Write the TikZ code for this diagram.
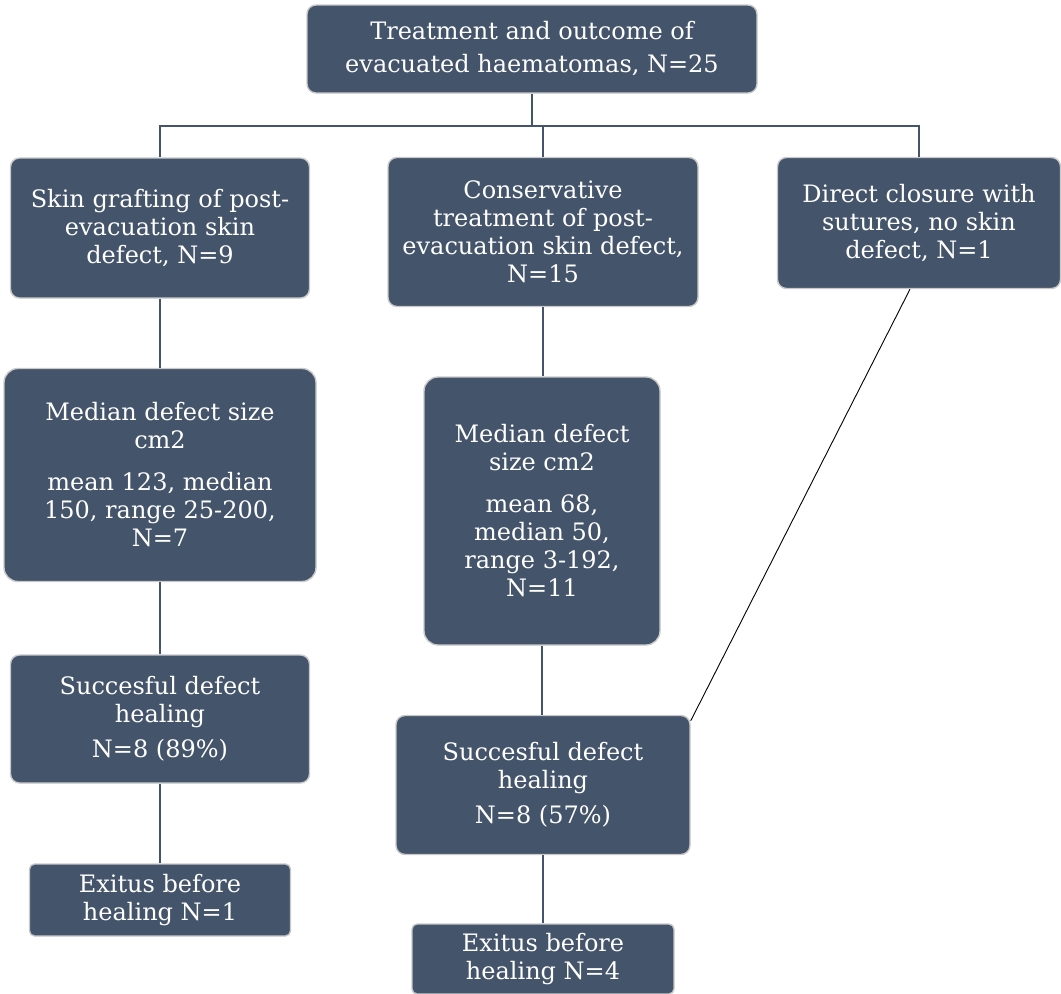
\documentclass[tikz,border=0pt]{standalone}
\usepackage{fontspec}
\setmainfont{DejaVu Serif}
\usepackage{tikz}

\definecolor{boxblue}{HTML}{44546A}
\definecolor{boxrim}{HTML}{C9C9C9}

\begin{document}
\begin{tikzpicture}[x=1pt,y=-1pt]
\tikzstyle{box}=[draw=boxrim, line width=1.4pt, fill=boxblue, rounded corners=9pt, text=white, align=center, inner sep=0pt, font=\fontsize{24}{28}\selectfont]
\tikzstyle{link}=[draw=boxblue, line width=2.2pt]
\useasboundingbox (0,0) rectangle (1061,994);
% first row
\node [box, minimum width=450, minimum height=88, font=\fontsize{24}{33}\selectfont] (top) at (532,49) {Treatment and outcome of\\evacuated haematomas, N=25};
\node [box, minimum width=299, minimum height=140] (skin) at (160,228) {Skin grafting of post-\\evacuation skin\\defect, N=9};
\node [box, minimum width=310, minimum height=149] (cons) at (543,232) {Conservative\\treatment of post-\\evacuation skin defect,\\N=15};
\node [box, minimum width=283, minimum height=131] (direct) at (919,223) {Direct closure with\\sutures, no skin\\defect, N=1};
% size of defect
\node [box, minimum width=312, minimum height=213, rounded corners=14pt] (sizeA) at (160,475) {Median defect size\\cm2\\[14pt]mean 123, median\\150, range 25-200,\\N=7};
\node [box, minimum width=236, minimum height=268, rounded corners=14pt] (sizeB) at (542,511) {Median defect\\size cm2\\[14pt]mean 68,\\median 50,\\range 3-192,\\N=11};
% healing
\node [box, minimum width=299, minimum height=128] (succA) at (160,719) {Succesful defect\\healing\\[7pt]N=8 (89\%)};
\node [box, minimum width=294, minimum height=139] (succB) at (543,785) {Succesful defect\\healing\\[7pt]N=8 (57\%)};
\node [box, minimum width=261, minimum height=72, rounded corners=5pt] (exitA) at (160,900) {Exitus before\\healing N=1};
\node [box, minimum width=262, minimum height=70, rounded corners=5pt] (exitB) at (543,959) {Exitus before\\healing N=4};
% connectors
\coordinate (bar) at (0,126);
\draw [link] (top.south) -- (top.south |- bar);
\draw [link] (skin.north) -- (skin.north |- bar) -- (direct.north |- bar) -- (direct.north);
\draw [link] (cons.north |- bar) -- (cons.north);
\draw [link] (skin) -- (sizeA);
\draw [link] (sizeA) -- (succA);
\draw [link] (succA) -- (exitA);
\draw [link] (cons) -- (cons |- sizeB.north);
\draw [link] (sizeB) -- (sizeB |- succB.north);
\draw [link] (succB) -- (exitB);
\draw [black, line width=0.9pt] ([xshift=-9pt]direct.south) -- ([yshift=-6pt]succB.north east);
\end{tikzpicture}
\end{document}
